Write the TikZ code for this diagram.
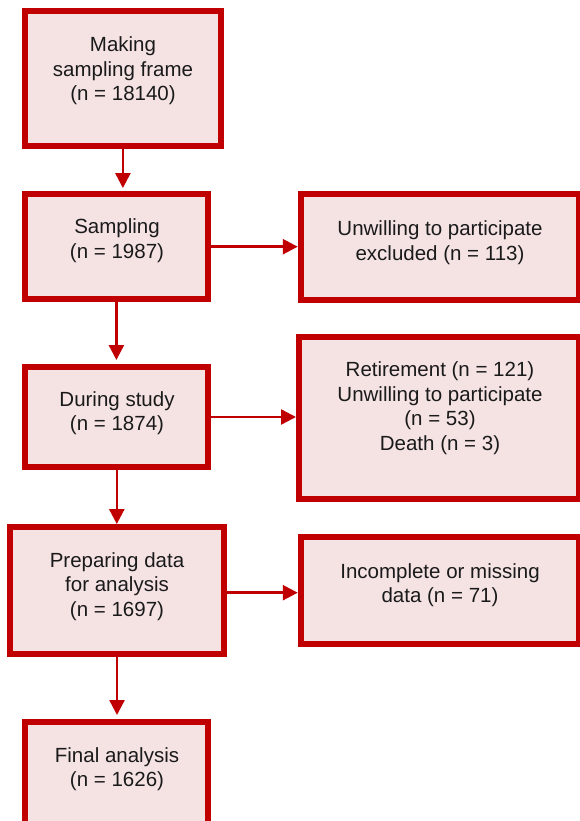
\documentclass[tikz,border=0pt]{standalone}
\usepackage{fontspec}
\setmainfont{Liberation Sans}
\usetikzlibrary{arrows.meta}
\definecolor{boxred}{HTML}{C00000}
\definecolor{boxfill}{HTML}{F5E3E4}
\definecolor{txt}{HTML}{1A1A1A}
\tikzset{
  flowbox/.style={draw=boxred, fill=boxfill, line width=6pt, inner sep=0pt, rectangle},
  flowtext/.style={text=txt, align=center, inner sep=0pt, font=\fontsize{20.5}{24.5}\selectfont},
  flowarrow/.style={draw=boxred, line width=2.5pt, -{Triangle[length=15pt,width=15pt]}},
}
\begin{document}
\begin{tikzpicture}[x=1pt,y=-1pt]
\useasboundingbox (0,0) rectangle (579,821);
% boxes
\node[flowbox, minimum width=195.7pt, minimum height=134.7pt] (B1) at (122.9,78.6) {};
\node[flowbox, minimum width=182.7pt, minimum height=105.3pt] (B2) at (116.4,246.7) {};
\node[flowbox, minimum width=183pt, minimum height=100pt] (B3) at (116.8,417) {};
\node[flowbox, minimum width=213.4pt, minimum height=127.3pt] (B4) at (117,590.7) {};
\node[flowbox, minimum width=183pt, minimum height=105pt] (B5) at (116.5,774.5) {};
\node[flowbox, minimum width=278.3pt, minimum height=105.7pt] (R1) at (439.9,246.9) {};
\node[flowbox, minimum width=280pt, minimum height=161.4pt] (R2) at (439,418) {};
\node[flowbox, minimum width=278.3pt, minimum height=107pt] (R3) at (439.9,590.8) {};
% texts
\node[flowtext] (T1) at (123,71) {Making\\sampling frame\\(n = 18140)};
\node[flowtext] (T2) at (117,240.5) {Sampling\\(n = 1987)};
\node[flowtext] (T3) at (117,413) {During study\\(n = 1874)};
\node[flowtext] (T4) at (117,586.5) {Preparing data\\for analysis\\(n = 1697)};
\node[flowtext] (T5) at (117,769) {Final analysis\\(n = 1626)};
\node[flowtext] (TR1) at (440,242.5) {Unwilling to participate\\excluded (n = 113)};
\node[flowtext] (TR2) at (440,408) {Retirement (n = 121)\\Unwilling to participate\\(n = 53)\\Death (n = 3)};
\node[flowtext] (TR3) at (440,585) {Incomplete or missing\\data (n = 71)};
% connectors
\draw[flowarrow, shorten >=3pt] (B1.south) -- (B1.south |- B2.north);
\draw[flowarrow, shorten >=4pt] (B2.south) -- (B2.south |- B3.north);
\draw[flowarrow] (B3.south) -- (B3.south |- B4.north);
\draw[flowarrow, shorten >=4pt] (B4.south) -- (B4.south |- B5.north);
\draw[flowarrow] (B2.east) -- (B2.east -| R1.west);
\draw[flowarrow] (B3.east) -- (B3.east -| R2.west);
\draw[flowarrow] ([yshift=-2pt]B4.east) -- ([yshift=-2pt]B4.east -| R3.west);
\end{tikzpicture}
\end{document}
